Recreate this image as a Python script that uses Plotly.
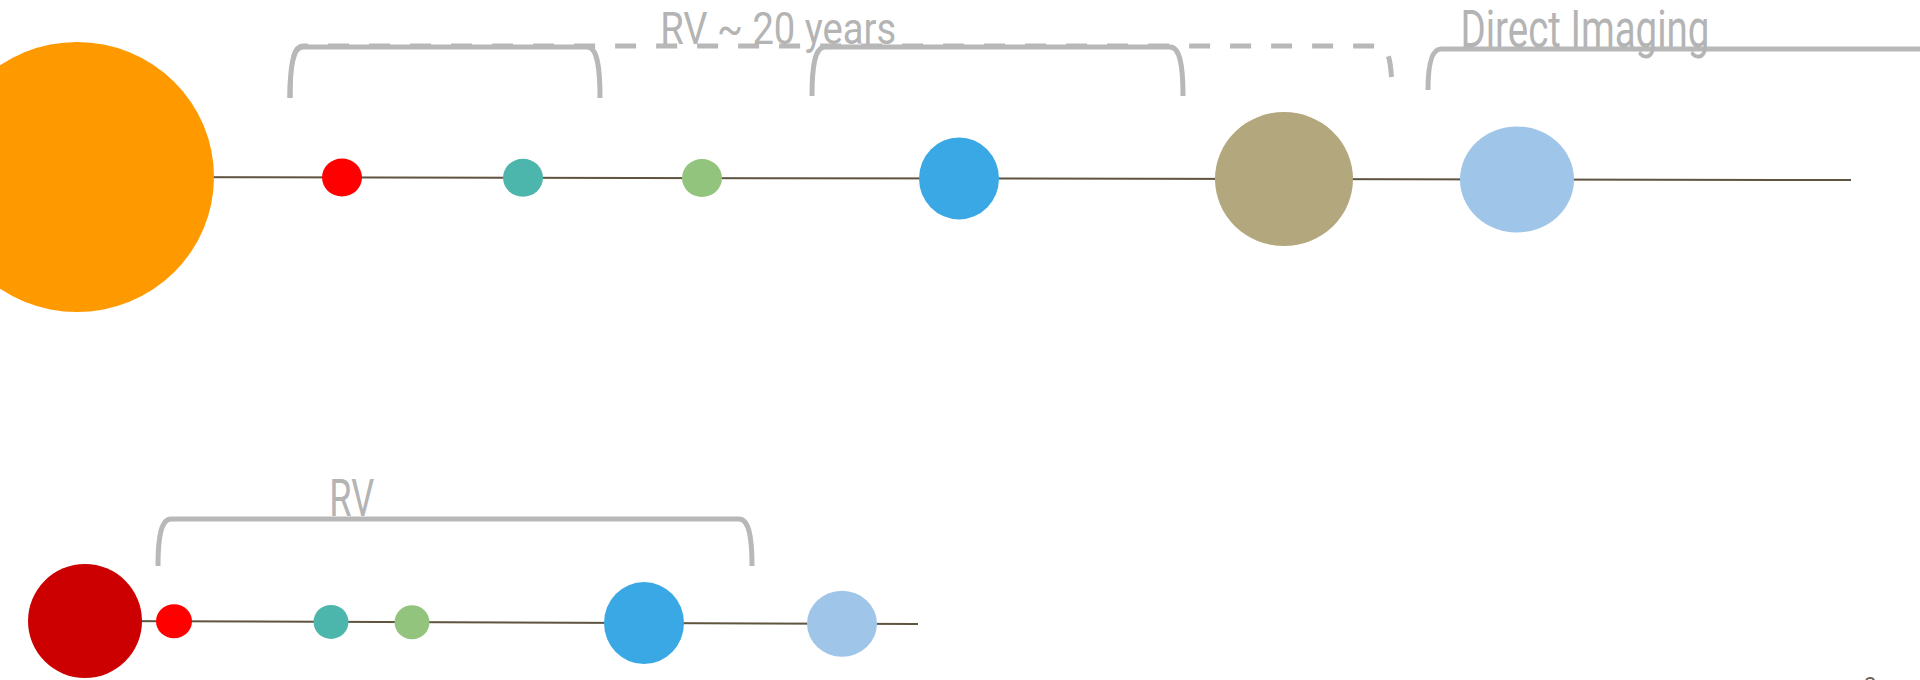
import plotly.graph_objects as go

# ---- data ----
top_x = [77, 342, 523, 702, 959, 1284, 1517]
top_rx = [137, 20, 20, 20, 40, 69, 57]
top_ry = [135, 19, 19, 19, 41, 67, 53]
top_colors = ["#ff9900", "#ff0000", "#4db6ac", "#93c47d", "#3aa8e4", "#b3a77e", "#9fc5e8"]
top_line_x = [77, 1851]
top_line_y = [177, 180]

bot_x = [85, 174, 331, 412, 644, 842]
bot_rx = [57, 18, 17.5, 17.5, 40, 35]
bot_ry = [57, 17, 17, 17, 41, 33]
bot_colors = ["#cc0000", "#ff0000", "#4db6ac", "#93c47d", "#3aa8e4", "#9fc5e8"]
bot_line_x = [85, 918]
bot_line_y = [621, 624]

# brackets
br_left = [290, 290, 812, 1428, 158]
br_right = [600, 1392, 1183, 1990, 752]
br_top = [47, 46, 47, 49, 519]
br_bot_l = [98, 98, 96, 90, 566]
br_bot_r = [98, 97, 96, 90, 566]
br_dashed = [False, True, False, False, False]

labels = ["RV ~ 20 years", "Direct Imaging", "RV"]
label_cx = [778, 1585, 351]
label_baseline = [45, 48, 517]
label_size = [44, 51, 51]
label_width = [236, 249, 45]

page_label = "2"

# ---- figure ----
fig = go.Figure()
fig.add_trace(go.Scatter(x=[0, 1920], y=[0, 680], mode="markers",
                         marker=dict(opacity=0), hoverinfo="skip", showlegend=False))

shapes = []
BR_COLOR = "#b8b8b8"


def bracket(xl, xr, yt, ybl, ybr, dashed):
    c = 13
    p = (f"M {xl},{ybl} C {xl},{yt+15} {xl+4},{yt} {xl+c},{yt} "
         f"L {xr-c},{yt} C {xr-4},{yt} {xr},{yt+15} {xr},{ybr}")
    return dict(type="path", path=p, xref="x", yref="y",
                line=dict(color=BR_COLOR, width=5, dash="21px,20px" if dashed else "solid"),
                fillcolor="rgba(0,0,0,0)", layer="above")


order = [i for i in range(len(br_left)) if br_dashed[i]] + [i for i in range(len(br_left)) if not br_dashed[i]]
for i in order:
    shapes.append(bracket(br_left[i], br_right[i], br_top[i], br_bot_l[i], br_bot_r[i], br_dashed[i]))

for lx, ly in [(top_line_x, top_line_y), (bot_line_x, bot_line_y)]:
    shapes.append(dict(type="line", xref="x", yref="y", x0=lx[0], x1=lx[1], y0=ly[0], y1=ly[1],
                       line=dict(color="#5e5440", width=2)))

for xs, rxs, rys, cols, lx, ly in [(top_x, top_rx, top_ry, top_colors, top_line_x, top_line_y),
                                   (bot_x, bot_rx, bot_ry, bot_colors, bot_line_x, bot_line_y)]:
    for x, rx, ry, c in zip(xs, rxs, rys, cols):
        t = (x - lx[0]) / (lx[1] - lx[0])
        cy = ly[0] + t * (ly[1] - ly[0])
        shapes.append(dict(type="circle", xref="x", yref="y", x0=x - rx, x1=x + rx,
                           y0=cy - ry, y1=cy + ry, fillcolor=c, line=dict(width=0)))

FONT = "Roboto, Liberation Sans, sans-serif"
annotations = []
for t, cx, bl, s in zip(labels, label_cx, label_baseline, label_size):
    annotations.append(dict(text=t, x=cx, y=bl - 0.36 * s, xref="x", yref="y",
                            xanchor="center", yanchor="middle", showarrow=False,
                            font=dict(family=FONT, size=s, color="#b4b4b4", weight=400)))
annotations.append(dict(text=page_label, x=1870, y=671, xref="x", yref="y", xanchor="center",
                        yanchor="top", showarrow=False,
                        font=dict(family=FONT, size=22, color="#6b5e4b")))

fig.update_layout(
    width=1920, height=680,
    margin=dict(l=0, r=0, t=0, b=0),
    paper_bgcolor="white", plot_bgcolor="white",
    xaxis=dict(range=[0, 1920], visible=False, fixedrange=True),
    yaxis=dict(range=[680, 0], visible=False, fixedrange=True),
    shapes=shapes, annotations=annotations, showlegend=False,
)

widths_js = "{" + ",".join(f'"{t}":{w}' for t, w in zip(labels, label_width)) + "}"
post = """
document.body.style.margin = '0';
document.body.style.overflow = 'hidden';
var gd = document.getElementById('{plot_id}');
var W = %s;
function squeeze() {
  gd.querySelectorAll('text.annotation-text').forEach(function (el) {
    var t = el.textContent;
    if (W[t] !== undefined) {
      el.setAttribute('textLength', W[t]);
      el.setAttribute('lengthAdjust', 'spacingAndGlyphs');
    }
  });
}
squeeze();
gd.on('plotly_afterplot', squeeze);
""" % widths_js
fig.write_html("out.html", config={"displayModeBar": False}, post_script=post)
